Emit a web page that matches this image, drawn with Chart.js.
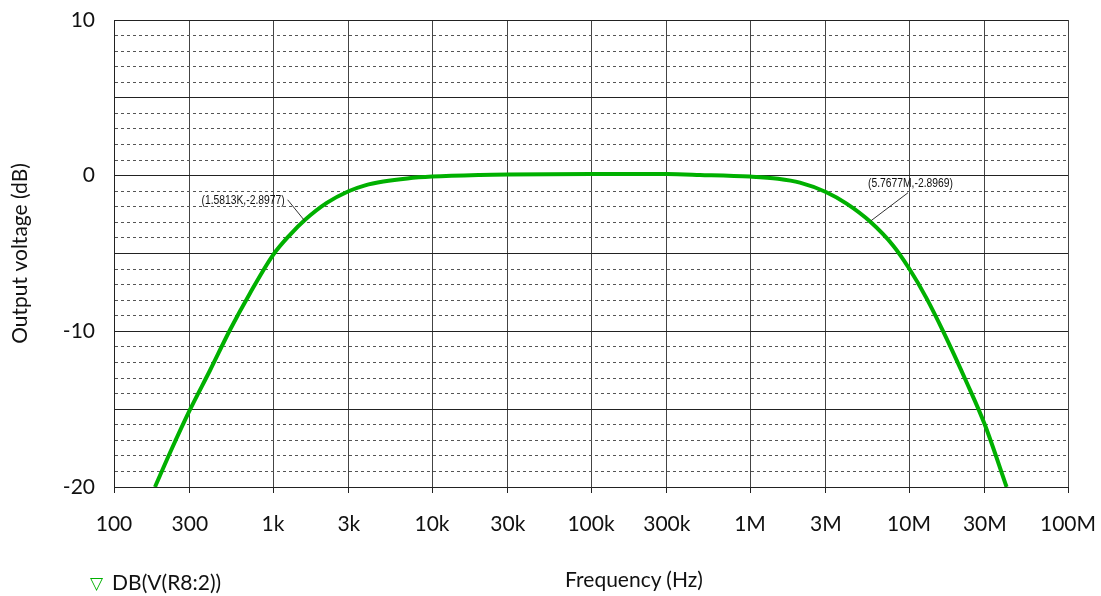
<!DOCTYPE html>
<html>
<head>
<meta charset="utf-8">
<title>Output voltage vs frequency</title>
<script src="https://cdn.jsdelivr.net/npm/chart.js@4.4.1/dist/chart.umd.min.js"></script>
<style>
  html, body { margin: 0; padding: 0; background: #fff; }
  #wrap { position: relative; width: 1101px; height: 596px; }
  #xTitle {
    position: absolute; left: 634px; top: 566px; transform: translateX(-50%);
    font: 21px Lato, sans-serif; color: #111; line-height: 26px; white-space: nowrap;
  }
  #legend {
    position: absolute; left: 90px; top: 569px;
    font: 21px Lato, sans-serif; color: #111; line-height: 26px; white-space: nowrap;
  }
  #legend .sym { color: #00b000; font: 17px "DejaVu Sans", sans-serif; margin-right: 9px; vertical-align: 1px; }
</style>
</head>
<body>
<div id="wrap">
  <canvas id="bodeChart" width="1101" height="596"></canvas>
  <div id="xTitle">Frequency (Hz)</div>
  <div id="legend"><span class="sym">&#9661;</span>DB(V(R8:2))</div>
</div>
<script>
// values (Hz, dB)
const freqs = [181, 225, 300, 402, 537, 717, 1000, 1279, 1585, 2178, 2985, 3800, 4946, 7000,
    10000, 20000, 30000, 100000, 300000, 485000, 1e6, 1.5e6, 2.06e6, 3e6, 4.05e6, 5.69e6,
    7.96e6, 1e7, 1.29e7, 1.64e7, 2.31e7, 3e7, 4.11e7];
const gainDb = [-20, -17.8, -15.05, -12.5, -9.9, -7.55, -5.1, -3.8, -2.85, -1.75, -1.0, -0.62, -0.38, -0.18,
    -0.06, 0.05, 0.08, 0.1, 0.1, 0.05, -0.06, -0.2, -0.45, -1.05, -1.8, -2.95,
    -4.5, -5.95, -7.88, -10.0, -13.3, -16.0, -20.0];

const xTickValues = [100, 300, 1e3, 3e3, 1e4, 3e4, 1e5, 3e5, 1e6, 3e6, 1e7, 3e7, 1e8];
const xTickLabels = ['100', '300', '1k', '3k', '10k', '30k', '100k', '300k', '1M', '3M', '10M', '30M', '100M'];

// cursor readouts
const markFreqs = [1581.3, 5.7677e6];
const markVals = [-2.8977, -2.8969];
const markTexts = ['(1.5813K,-2.8977)', '(5.7677M,-2.8969)'];

const green = '#00b000';

const cursorMarks = {
    id: 'cursorMarks',
    afterDatasetsDraw(chart) {
        const { ctx, scales: { x, y } } = chart;
        // leader end offset, text offset, alignment
        const layout = [
            { lx: -17, ly: -21, tx: -20, ty: -20, align: 'right' },
            { lx: 37, ly: -28, tx: -3, ty: -37, align: 'left' }
        ];
        const squeeze = 0.86;
        ctx.save();
        ctx.font = '12px "Liberation Sans", sans-serif';
        ctx.fillStyle = '#111';
        ctx.strokeStyle = '#333';
        ctx.lineWidth = 1;
        ctx.textBaseline = 'middle';
        markFreqs.forEach((f, i) => {
            const px = x.getPixelForValue(f);
            const py = y.getPixelForValue(markVals[i]);
            const l = layout[i];
            ctx.beginPath();
            ctx.moveTo(px, py);
            ctx.lineTo(px + l.lx, py + l.ly);
            ctx.stroke();
            ctx.save();
            ctx.translate(px + l.tx, py + l.ty);
            ctx.scale(squeeze, 1);
            ctx.textAlign = l.align;
            ctx.fillText(markTexts[i], 0, 0);
            ctx.restore();
        });
        ctx.restore();
    }
};

new Chart(document.getElementById('bodeChart'), {
    type: 'line',
    data: {
        datasets: [{
            label: 'DB(V(R8:2))',
            data: freqs.map((f, i) => ({ x: f, y: gainDb[i] })),
            borderColor: green,
            borderWidth: 4,
            pointRadius: 0,
            cubicInterpolationMode: 'monotone'
        }]
    },
    options: {
        responsive: false,
        animation: false,
        layout: { padding: { top: 20, right: 33, bottom: 0, left: 0 } },
        plugins: {
            legend: { display: false },
            tooltip: { enabled: false }
        },
        scales: {
            x: {
                type: 'logarithmic',
                min: 100,
                max: 1e8,
                afterBuildTicks: s => { s.ticks = xTickValues.map(v => ({ value: v })); },
                afterFit: s => {
                    s.height = 109;
                    s.paddingLeft = 0;
                    s.paddingRight = 0;
                },
                ticks: {
                    autoSkip: false,
                    maxRotation: 0,
                    padding: 19,
                    color: '#111',
                    font: { family: 'Lato', size: 21 },
                    callback: (v, i) => xTickLabels[i]
                },
                grid: { color: '#444', lineWidth: 1, tickColor: '#222', tickLength: 6 },
                border: { color: '#222' }
            },
            y: {
                min: -20,
                max: 10,
                afterFit: s => {
                    s.width = 114;
                    s.paddingTop = 0;
                    s.paddingBottom = 0;
                },
                ticks: {
                    stepSize: 1,
                    autoSkip: false,
                    padding: 19,
                    color: '#111',
                    font: { family: 'Lato', size: 21 },
                    callback: v => (v % 10 === 0 ? String(v) : '')
                },
                grid: {
                    drawTicks: false,
                    color: c => (c.tick && c.tick.value % 5 === 0 ? '#222' : '#555'),
                    lineWidth: 1
                },
                border: {
                    color: '#222',
                    dash: c => (c.tick && c.tick.value % 5 !== 0 ? [3, 3] : [])
                },
                title: {
                    display: true,
                    text: 'Output voltage (dB)',
                    color: '#111',
                    font: { family: 'Lato', size: 21 },
                    padding: { top: 8, bottom: 0 }
                }
            }
        }
    },
    plugins: [cursorMarks]
});
</script>
</body>
</html>
